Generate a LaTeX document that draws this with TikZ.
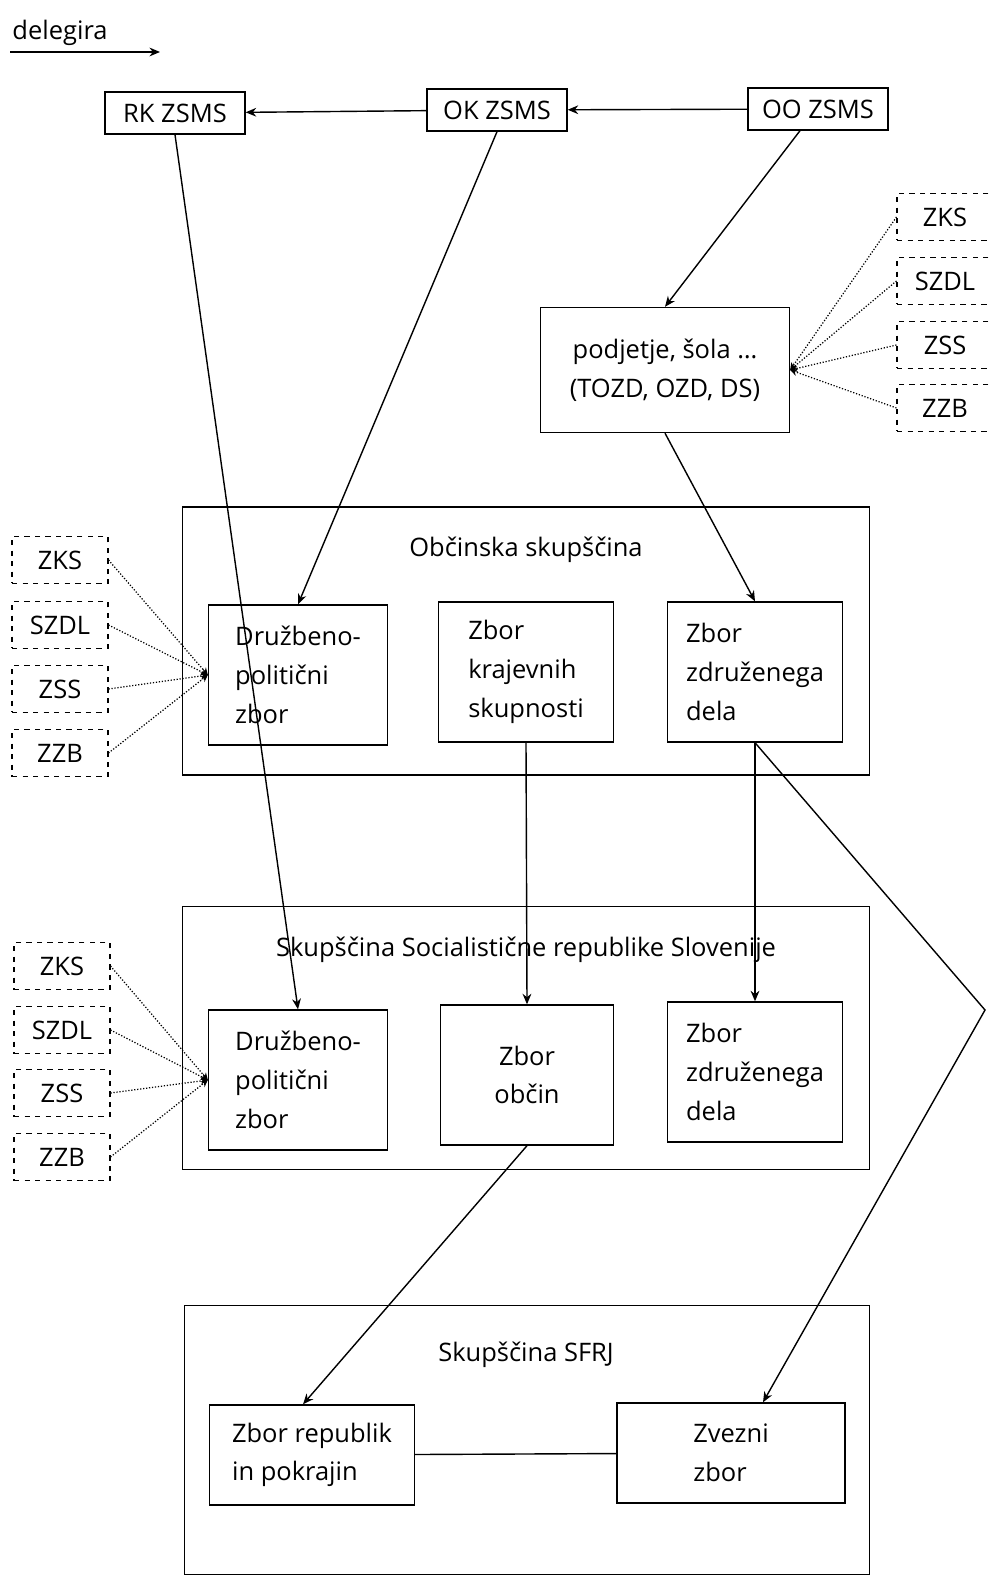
\documentclass[tikz,border=0pt]{standalone}
\usepackage{fontspec}
\setmainfont{Open Sans}
\usepackage{tikz}
\usetikzlibrary{shapes, positioning, arrows.meta}

\begin{document}
\begin{tikzpicture}[
			x=0.02cm, y=-0.02cm,
			line width=0.8pt,
			font=\fontsize{14.5}{22}\selectfont,
			>={Stealth[length=6pt, width=5pt]},
			BoxCfg/.style={draw, align=left, inner sep=0pt},
			TopCfg/.style={BoxCfg, minimum width=2.8cm, minimum height=0.84cm},
			ZborCfg/.style={BoxCfg, minimum width=3.5cm, minimum height=2.8cm},
			FrameCfg/.style={draw, minimum width=13.74cm, inner sep=0pt},
			OrgCfg/.style={
				draw, dashed, line width=0.6pt,
				minimum width=1.92cm, minimum height=0.94cm, inner sep=0pt
			},
			FeedCfg/.style={densely dotted, line width=0.7pt, -{Stealth[length=4pt, width=4pt]}}
			]
			
			\useasboundingbox (0,0) rectangle (989,1577);
			
			\path
			(60,33) node (LEG) {delegira}
			(10,52) coordinate (LEGa)
			(160,52) coordinate (LEGb)
			(175,113) node [TopCfg] (RK) {RK ZSMS}
			(497,110) node [TopCfg] (OK) {OK ZSMS}
			(818,109) node [TopCfg] (OO) {OO ZSMS}
			(665,370) node [BoxCfg, align=center, minimum width=4.98cm, minimum height=2.5cm] (PODJ)
			{podjetje, šola \dots\\(TOZD, OZD, DS)};
			
			\path
			(945,217) node [OrgCfg] (rZKS) {ZKS}
			(945,281) node [OrgCfg] (rSZDL) {SZDL}
			(945,345) node [OrgCfg] (rZSS) {ZSS}
			(945,408) node [OrgCfg] (rZZB) {ZZB};
			
			% obcinska skupscina
			\path
			(526,641) node [FrameCfg, minimum height=5.36cm] (OBC) {}
			(526,550) node (OBCt) {Občinska skupščina}
			(298,675) node [ZborCfg, minimum width=3.58cm] (OBCdpz) {Družbeno-\\politični\\zbor}
			(526,672) node [ZborCfg] (OBCkrs) {Zbor\\krajevnih\\skupnosti}
			(755,672) node [ZborCfg] (OBCzdd) {Zbor\\združenega\\dela};
			
			\path
			(60,560) node [OrgCfg] (aZKS) {ZKS}
			(60,625) node [OrgCfg] (aSZDL) {SZDL}
			(60,689) node [OrgCfg] (aZSS) {ZSS}
			(60,753) node [OrgCfg] (aZZB) {ZZB};
			
			% skupscina SRS
			\path
			(526,1038) node [FrameCfg, minimum height=5.26cm] (SRS) {}
			(526,950) node (SRSt) {Skupščina Socialistične republike Slovenije}
			(298,1080) node [ZborCfg, minimum width=3.58cm] (SRSdpz) {Družbeno-\\politični\\zbor}
			(527,1075) node [ZborCfg, align=center, minimum width=3.46cm] (SRSobc) {Zbor\\občin}
			(755,1072) node [ZborCfg] (SRSzdd) {Zbor\\združenega\\dela};
			
			\path
			(62,966) node [OrgCfg] (bZKS) {ZKS}
			(62,1030) node [OrgCfg] (bSZDL) {SZDL}
			(62,1093) node [OrgCfg] (bZSS) {ZSS}
			(62,1157) node [OrgCfg] (bZZB) {ZZB};
			
			% skupscina SFRJ
			\path
			(527,1440) node [FrameCfg, minimum width=13.7cm, minimum height=5.38cm] (SFRJ) {}
			(526,1355) node (SFRJt) {Skupščina SFRJ}
			(312,1455) node [BoxCfg, minimum width=4.1cm, minimum height=2cm] (SFRJrep) {Zbor republik\\in pokrajin}
			(731,1453) node [BoxCfg, minimum width=4.56cm, minimum height=2cm] (SFRJzv) {Zvezni\\zbor}
			(985,1010) coordinate (KNEE);
			
			\draw [->]
			(LEGa) -- (LEGb);
			
			\draw [->] (OO) -- (OK);
			\draw [->] (OK) -- (RK);
			\draw [->] (OK.south) -- (OBCdpz.north);
			\draw [->] (RK.south) -- (SRSdpz.north);
			\draw [->] ([xshift=-0.36cm]OO.south) -- (PODJ.north);
			\draw [->] (PODJ.south) -- (OBCzdd.north);
			\draw [->] (OBCkrs.south) -- (SRSobc.north);
			\draw [->] (OBCzdd.south) -- (SRSzdd.north);
			\draw [->] (OBCzdd.south) -- (KNEE) -- ([xshift=0.64cm]SFRJzv.north);
			\draw [->] (SRSobc.south) -- ([xshift=-0.18cm]SFRJrep.north);
			\draw (SFRJrep) -- (SFRJzv);
			
			\draw [FeedCfg] (rZKS.west) -- (PODJ.east);
			\draw [FeedCfg] (rSZDL.west) -- (PODJ.east);
			\draw [FeedCfg] (rZSS.west) -- (PODJ.east);
			\draw [FeedCfg] (rZZB.west) -- (PODJ.east);
			
			\draw [FeedCfg] (aZKS.east) -- (OBCdpz.west);
			\draw [FeedCfg] (aSZDL.east) -- (OBCdpz.west);
			\draw [FeedCfg] (aZSS.east) -- (OBCdpz.west);
			\draw [FeedCfg] (aZZB.east) -- (OBCdpz.west);
			
			\draw [FeedCfg] (bZKS.east) -- (SRSdpz.west);
			\draw [FeedCfg] (bSZDL.east) -- (SRSdpz.west);
			\draw [FeedCfg] (bZSS.east) -- (SRSdpz.west);
			\draw [FeedCfg] (bZZB.east) -- (SRSdpz.west);
		\end{tikzpicture}
\end{document}
